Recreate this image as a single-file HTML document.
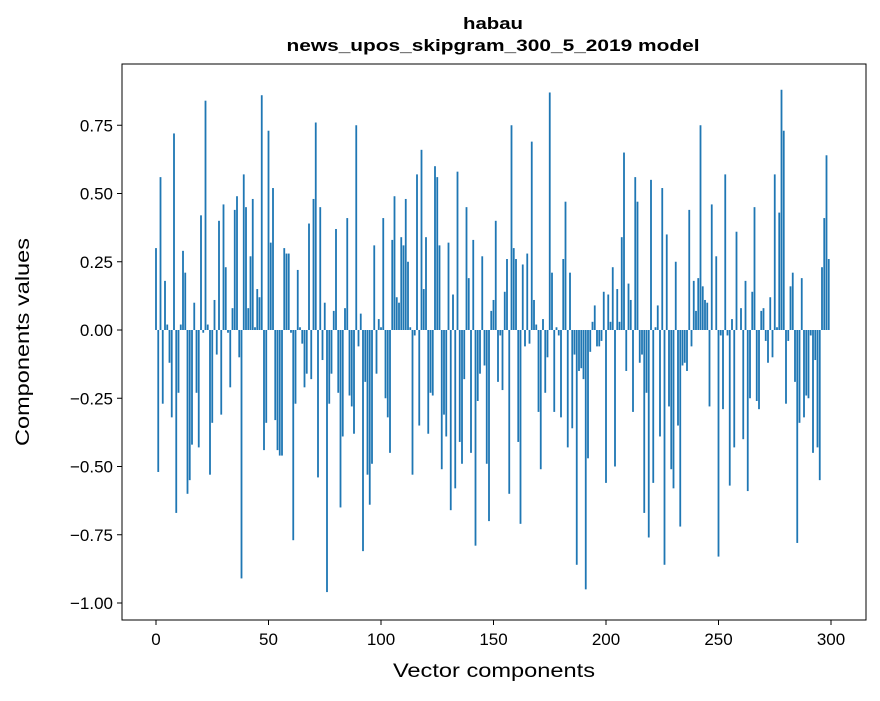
<!DOCTYPE html>
<html><head><meta charset="utf-8"><style>
body{margin:0;background:#fff;}
svg text{font-family:"Liberation Sans","DejaVu Sans",sans-serif;fill:#000;}
</style></head><body>
<svg id="chart" width="880" height="696" viewBox="0 0 880 696" xmlns="http://www.w3.org/2000/svg">
<rect x="0" y="0" width="880" height="696" fill="#fff"/>
<text x="493" y="29" text-anchor="middle" font-size="17" font-weight="bold" textLength="60" lengthAdjust="spacingAndGlyphs">habau</text>
<text x="493" y="51" text-anchor="middle" font-size="17" font-weight="bold" textLength="413" lengthAdjust="spacingAndGlyphs">news_upos_skipgram_300_5_2019 model</text>
<g id="bars"></g>
<g id="axes"></g>
<rect x="122" y="64" width="744" height="556" fill="none" stroke="#000" stroke-width="1"/>
<text x="494" y="677" text-anchor="middle" font-size="19" textLength="202" lengthAdjust="spacingAndGlyphs">Vector components</text>
<text x="29" y="342" text-anchor="middle" font-size="19" textLength="208" lengthAdjust="spacingAndGlyphs" transform="rotate(-90 29 342)">Components values</text>
</svg>
<script>
const values = [
0.30,-0.52,0.56,-0.27,0.18,0.02,-0.12,-0.32,0.72,-0.67,
-0.23,0.02,0.29,0.21,-0.60,-0.55,-0.42,0.10,-0.23,-0.43,
0.42,-0.01,0.84,0.02,-0.53,-0.34,0.11,-0.09,0.40,-0.31,
0.46,0.23,-0.01,-0.21,0.08,0.44,0.49,-0.10,-0.91,0.57,
0.45,0.08,0.27,0.48,0.01,0.15,0.12,0.86,-0.44,-0.34,
0.73,0.32,0.52,-0.33,-0.44,-0.46,-0.46,0.30,0.28,0.28,
-0.01,-0.77,-0.27,0.22,0.01,-0.05,-0.21,-0.16,0.39,-0.18,
0.48,0.76,-0.54,0.45,-0.11,0.10,-0.96,-0.27,-0.16,0.07,
0.37,-0.23,-0.65,-0.39,0.08,0.41,-0.24,-0.28,-0.38,0.75,
-0.06,0.06,-0.81,-0.19,-0.53,-0.64,-0.49,0.31,-0.16,0.04,
0.01,0.41,-0.25,-0.32,-0.45,0.33,0.49,0.12,0.10,0.34,
0.31,0.48,0.25,0.01,-0.53,-0.02,0.57,-0.35,0.66,0.15,
0.34,-0.38,-0.23,-0.24,0.60,0.56,0.31,-0.51,-0.31,-0.39,
0.32,-0.66,0.13,-0.58,0.58,-0.41,-0.49,-0.18,0.45,0.19,
-0.45,0.33,-0.79,-0.26,-0.16,0.27,-0.13,-0.49,-0.70,0.07,
0.11,0.40,-0.19,-0.02,-0.22,0.14,0.26,-0.60,0.75,0.30,
0.26,-0.41,-0.71,0.24,-0.06,0.28,-0.05,0.69,0.11,0.02,
-0.30,-0.51,0.04,-0.23,-0.10,0.87,0.21,-0.30,0.01,-0.02,
-0.32,0.26,0.47,-0.43,0.21,-0.36,-0.09,-0.86,-0.15,-0.14,
-0.18,-0.95,-0.47,-0.08,0.03,0.09,-0.06,-0.06,-0.04,0.14,
-0.56,0.13,0.03,0.23,-0.50,0.15,0.03,0.34,0.65,-0.15,
0.17,0.11,-0.30,0.56,0.47,-0.12,-0.09,-0.67,-0.23,-0.76,
0.55,-0.56,0.01,0.09,-0.39,0.52,-0.86,0.35,-0.28,-0.51,
-0.58,0.25,-0.35,-0.72,-0.13,-0.12,-0.15,0.44,-0.06,0.18,
0.07,0.19,0.75,0.16,0.11,0.10,-0.28,0.46,0.00,0.27,
-0.83,-0.02,-0.29,0.57,-0.02,-0.57,0.04,-0.43,0.36,0.00,
0.08,-0.40,0.18,-0.59,-0.25,0.14,0.45,-0.26,-0.29,0.07,
0.08,-0.04,-0.12,0.12,-0.10,0.57,0.01,0.43,0.88,0.73,
-0.27,-0.04,0.16,0.21,-0.19,-0.78,-0.34,0.19,-0.32,-0.24,
-0.25,-0.02,-0.45,-0.11,-0.43,-0.55,0.23,0.41,0.64,0.26
];
const yTickValues = [-1.00,-0.75,-0.50,-0.25,0.00,0.25,0.50,0.75];
const yTickLabels = ["\u22121.00","\u22120.75","\u22120.50","\u22120.25","0.00","0.25","0.50","0.75"];
const xTickValues = [0,50,100,150,200,250,300];
const xTickLabels = ["0","50","100","150","200","250","300"];

const NS = "http://www.w3.org/2000/svg";
function xScale(i){ return 156 + 2.25*i; }
function yScale(v){ return 330 - 273*v; }
const barsG = document.getElementById('bars');
values.forEach((v,i)=>{
  const r = document.createElementNS(NS,'rect');
  const y0 = yScale(0), y1 = yScale(v);
  r.setAttribute('x', (xScale(i)-0.9).toFixed(2));
  r.setAttribute('width', 1.8);
  r.setAttribute('y', Math.min(y0,y1).toFixed(2));
  r.setAttribute('height', Math.abs(y1-y0).toFixed(2));
  r.setAttribute('fill', '#1f77b4');
  
  
  barsG.appendChild(r);
});
const axesG = document.getElementById('axes');
yTickValues.forEach((v,k)=>{
  const y = yScale(v);
  const l = document.createElementNS(NS,'line');
  l.setAttribute('x1',117); l.setAttribute('x2',122);
  l.setAttribute('y1',y); l.setAttribute('y2',y);
  l.setAttribute('stroke','#000');
  
  
  axesG.appendChild(l);
  const t = document.createElementNS(NS,'text');
  t.setAttribute('x',113); t.setAttribute('y',y+6);
  t.setAttribute('text-anchor','end'); t.setAttribute('font-size','17');
  t.textContent = yTickLabels[k];
  
  
  axesG.appendChild(t);
});
xTickValues.forEach((v,k)=>{
  const x = xScale(v);
  const l = document.createElementNS(NS,'line');
  l.setAttribute('x1',x); l.setAttribute('x2',x);
  l.setAttribute('y1',620); l.setAttribute('y2',625);
  l.setAttribute('stroke','#000');
  
  
  axesG.appendChild(l);
  const t = document.createElementNS(NS,'text');
  t.setAttribute('x',x); t.setAttribute('y',645);
  t.setAttribute('text-anchor','middle'); t.setAttribute('font-size','17');
  t.textContent = xTickLabels[k];
  
  
  axesG.appendChild(t);
});
</script>
</body></html>
